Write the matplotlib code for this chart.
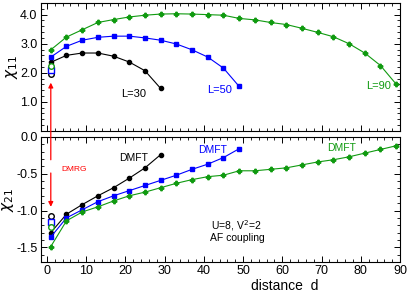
import matplotlib
matplotlib.use("Agg")
import matplotlib.pyplot as plt
from matplotlib.patches import ConnectionPatch
from matplotlib.ticker import MultipleLocator

plt.rcParams['font.family'] = ['Liberation Sans', 'DejaVu Sans']

# distances d = 1, 5, 9, ...
d30 = list(range(1, 30, 4))
d50 = list(range(1, 50, 4))
d90 = list(range(1, 90, 4))

# chi_11 (upper panel)
chi11_L30 = [2.36, 2.60, 2.68, 2.68, 2.57, 2.37, 2.07, 1.46]
chi11_L50 = [2.54, 2.91, 3.12, 3.22, 3.26, 3.26, 3.20, 3.12, 2.99, 2.79, 2.54, 2.16, 1.53]
chi11_L90 = [2.79, 3.23, 3.48, 3.73, 3.83, 3.92, 3.98, 4.02, 4.03, 4.02, 4.00, 3.98,
             3.87, 3.82, 3.73, 3.66, 3.53, 3.39, 3.24, 3.00, 2.68, 2.25, 1.61]

# chi_21 (lower panel)
chi21_L30 = [-1.30, -1.05, -0.92, -0.80, -0.69, -0.56, -0.42, -0.24]
chi21_L50 = [-1.36, -1.10, -0.99, -0.88, -0.80, -0.73, -0.66, -0.59, -0.52, -0.44,
             -0.37, -0.28, -0.16]
chi21_L90 = [-1.49, -1.14, -1.02, -0.95, -0.87, -0.80, -0.75, -0.69, -0.63, -0.58,
             -0.54, -0.52, -0.46, -0.46, -0.44, -0.42, -0.38, -0.34, -0.31, -0.27,
             -0.22, -0.17, -0.12]

# DMRG values at d = 1 (L=30, 50, 90)
dmrg_d = 1
dmrg11 = [1.96, 2.08, 2.24]
dmrg21 = [-1.08, -1.15, -1.22]

black = 'black'
blue = '#0000ff'
green = '#109a10'
red = '#ff0000'

fig = plt.figure(figsize=(4.07, 3.01), dpi=100)
ax1 = fig.add_axes([0.1007, 0.565, 0.8823, 0.425])
ax2 = fig.add_axes([0.1007, 0.1296, 0.8823, 0.4154])

# upper panel
ax1.plot(d30, chi11_L30, '-o', color=black, ms=3, lw=0.8)
ax1.plot(d50, chi11_L50, '-s', color=blue, ms=3, lw=0.8)
ax1.plot(d90, chi11_L90, '-P', color=green, ms=3.2, lw=0.8)
ax1.plot(dmrg_d, dmrg11[0], 'o', mfc='white', mec=black, ms=4, mew=1)
ax1.plot(dmrg_d, dmrg11[1], 's', mfc='white', mec=blue, ms=4, mew=1)
ax1.plot(dmrg_d, dmrg11[2], 'o', mfc='white', mec=green, ms=4, mew=1)

ax1.text(22, 1.28, 'L=30', color=black, fontsize=8, ha='center', va='center')
ax1.text(44, 1.41, 'L=50', color=blue, fontsize=8, ha='center', va='center')
ax1.text(84.4, 1.55, 'L=90', color=green, fontsize=8, ha='center', va='center')

ax1.set_xlim(-1.5, 90)
ax1.set_ylim(0, 4.4)
ax1.set_yticks([0, 1, 2, 3, 4], ['', '1.0', '2.0', '3.0', '4.0'])
ax1.yaxis.set_minor_locator(MultipleLocator(0.2))
ax1.set_ylabel(r'$\chi_{11}$', fontsize=11, labelpad=0)
ax1.tick_params(labelbottom=False)

# lower panel
ax2.plot(d30, chi21_L30, '-o', color=black, ms=3, lw=0.8)
ax2.plot(d50, chi21_L50, '-s', color=blue, ms=3, lw=0.8)
ax2.plot(d90, chi21_L90, '-P', color=green, ms=3.2, lw=0.8)
ax2.plot(dmrg_d, dmrg21[0], 'o', mfc='white', mec=black, ms=4, mew=1)
ax2.plot(dmrg_d, dmrg21[1], 's', mfc='white', mec=blue, ms=4, mew=1)
ax2.plot(dmrg_d, dmrg21[2], 'o', mfc='white', mec=green, ms=4, mew=1)

ax2.text(22.2, -0.29, 'DMFT', color=black, fontsize=7.5, ha='center', va='center')
ax2.text(42.2, -0.18, 'DMFT', color=blue, fontsize=7.5, ha='center', va='center')
ax2.text(75.2, -0.15, 'DMFT', color=green, fontsize=7.5, ha='center', va='center')
ax2.text(41.7, -1.20, r'U=8, V$^2$=2', fontsize=7.5, ha='left', va='center')
ax2.text(41.5, -1.37, 'AF coupling', fontsize=7.5, ha='left', va='center')
ax2.text(3.8, -0.44, 'DMRG', color=red, fontsize=6, ha='left', va='center')

ax2.set_xlim(-1.5, 90)
ax2.set_ylim(-1.7, 0.0)
ax2.set_yticks([0.0, -0.5, -1.0, -1.5], ['0.0', '-0.5', '-1.0', '-1.5'])
ax2.yaxis.set_minor_locator(MultipleLocator(0.1))
ax2.set_ylabel(r'$\chi_{21}$', fontsize=11, labelpad=0)
ax2.set_xlabel('distance  d', fontsize=10)
ax2.xaxis.set_label_coords(0.68, -0.14)

for ax in (ax1, ax2):
    ax.xaxis.set_major_locator(MultipleLocator(10))
    ax.xaxis.set_minor_locator(MultipleLocator(2))
    ax.tick_params(which='both', direction='in', top=True, right=True, labelsize=9)
    ax.tick_params(which='major', length=4, width=0.7, pad=2.5)
    ax.tick_params(which='minor', length=2, width=0.6)
    for s in ax.spines.values():
        s.set_linewidth(0.8)

# red DMRG arrows
up = ConnectionPatch(xyA=(1, -0.31), coordsA=ax2.transData,
                     xyB=(1, 1.66), coordsB=ax1.transData,
                     arrowstyle='-|>', color=red, lw=0.9, mutation_scale=7)
fig.add_artist(up)
ax2.annotate('', xy=(1, -0.95), xytext=(1, -0.49),
             arrowprops=dict(arrowstyle='-|>', color=red, lw=0.9, mutation_scale=7,
                             shrinkA=0, shrinkB=0))

fig.savefig('out.png', dpi=100)
